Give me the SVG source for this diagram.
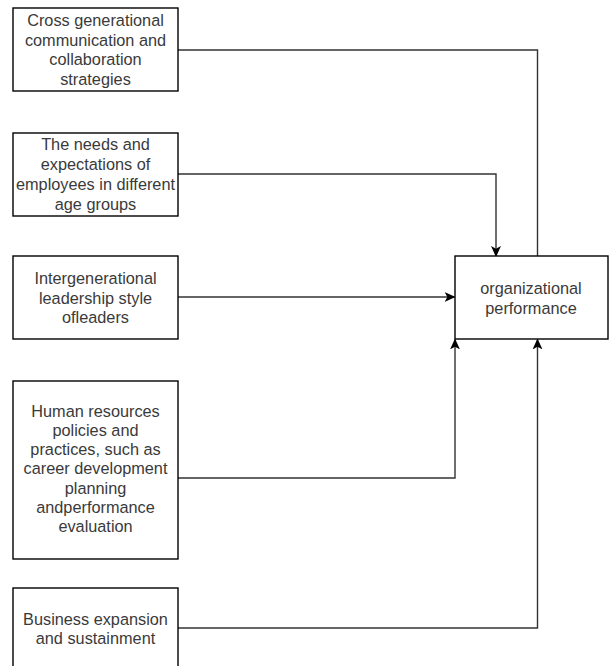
<svg xmlns="http://www.w3.org/2000/svg" width="609" height="666" viewBox="0 0 609 666">
<defs>
<style>
.box{fill:#fff;stroke:#000;stroke-width:1.4}
.t{font-family:"Liberation Sans",Arial,sans-serif;font-size:16.3px;fill:#3a3a3a;text-anchor:middle}
.c{fill:none;stroke:#333;stroke-width:1.4}
</style>
<marker id="a" viewBox="0 0 10 10" refX="9" refY="5" markerWidth="11" markerHeight="11" markerUnits="userSpaceOnUse" orient="auto">
<path d="M0,0.5 L10,5 L0,9.5 L2.5,5 Z" fill="#000"/>
</marker>
</defs>
<rect width="609" height="666" fill="#fff"/>
<g id="connectors">
<path class="c" d="M178,50 H537.5 V256"/>
<path class="c" d="M178,174 H496 V256" marker-end="url(#a)"/>
<path class="c" d="M178,297 H454.5" marker-end="url(#a)"/>
<path class="c" d="M178,478 H455 V339.5" marker-end="url(#a)"/>
<path class="c" d="M178,628 H537.5 V339.5" marker-end="url(#a)"/>
</g>
<g id="n1">
<rect class="box" x="13" y="8" width="165" height="83"/>
<text class="t"><tspan x="95.5" y="26">Cross generational</tspan><tspan x="95.5" y="45.5">communication and</tspan><tspan x="95.5" y="65">collaboration</tspan><tspan x="95.5" y="84.5">strategies</tspan></text>
</g>
<g id="n2">
<rect class="box" x="13" y="133" width="165" height="83"/>
<text class="t"><tspan x="95.5" y="150">The needs and</tspan><tspan x="95.5" y="170">expectations of</tspan><tspan x="95.5" y="190">employees in different</tspan><tspan x="95.5" y="210">age groups</tspan></text>
</g>
<g id="n3">
<rect class="box" x="13" y="256" width="165" height="83"/>
<text class="t"><tspan x="95.5" y="284">Intergenerational</tspan><tspan x="95.5" y="303.5">leadership style</tspan><tspan x="95.5" y="323">ofleaders</tspan></text>
</g>
<g id="n4">
<rect class="box" x="13" y="381" width="165" height="178"/>
<text class="t"><tspan x="95.5" y="416.5">Human resources</tspan><tspan x="95.5" y="435.8">policies and</tspan><tspan x="95.5" y="455.1">practices, such as</tspan><tspan x="95.5" y="474.4">career development</tspan><tspan x="95.5" y="493.7">planning</tspan><tspan x="95.5" y="513">andperformance</tspan><tspan x="95.5" y="532.3">evaluation</tspan></text>
</g>
<g id="n5">
<rect class="box" x="13" y="588" width="165" height="90"/>
<text class="t"><tspan x="95.5" y="625">Business expansion</tspan><tspan x="95.5" y="644">and sustainment</tspan></text>
</g>
<g id="n6">
<rect class="box" x="455" y="256" width="153" height="83"/>
<text class="t"><tspan x="531" y="294">organizational</tspan><tspan x="531" y="314">performance</tspan></text>
</g>
</svg>
